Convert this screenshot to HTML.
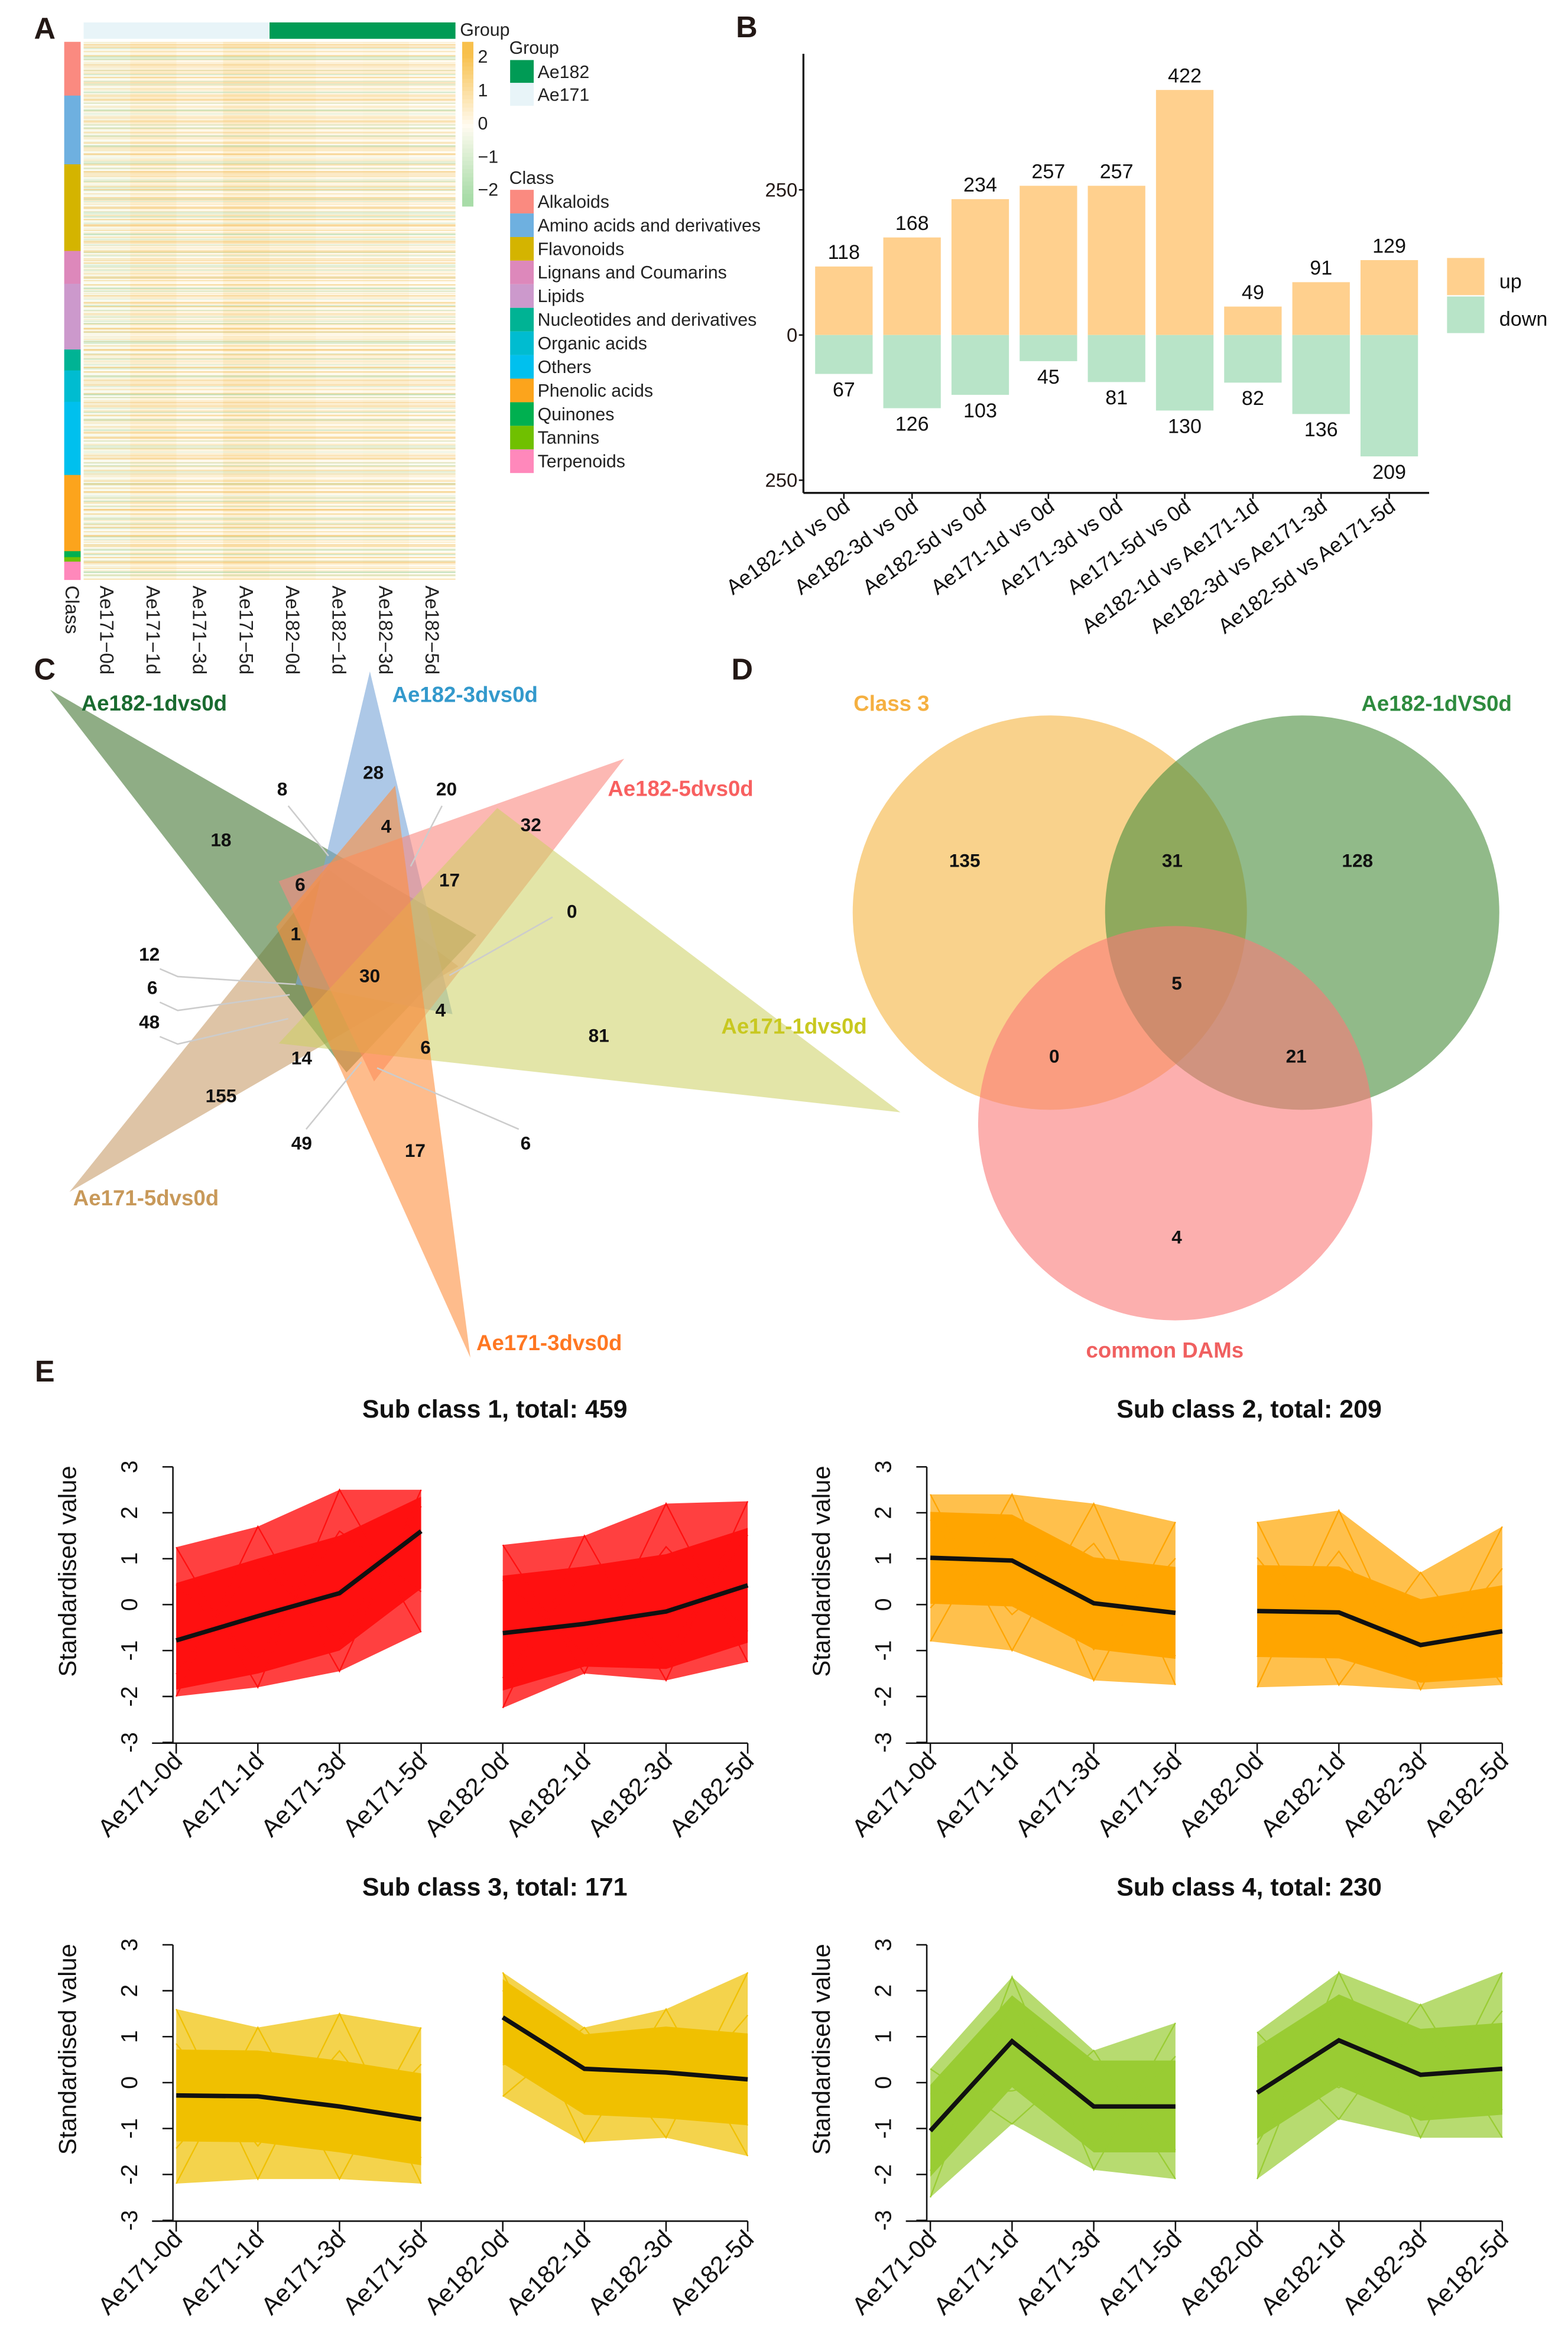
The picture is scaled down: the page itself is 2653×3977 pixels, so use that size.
<!DOCTYPE html>
<html><head><meta charset="utf-8"><title>Figure</title>
<style>
html,body{margin:0;padding:0;background:#fff;}
svg{display:block;font-family:"Liberation Sans",Arial,sans-serif;}
</style></head>
<body>
<svg id="fig" xmlns="http://www.w3.org/2000/svg" width="2653" height="3977" viewBox="0 0 1050 1574" preserveAspectRatio="none">
<defs>
<pattern id="stA" width="10" height="7.3" patternUnits="userSpaceOnUse">
<rect y="0.6" width="10" height="0.6" fill="#f3b43a" opacity="0.45"/>
<rect y="3.1" width="10" height="0.5" fill="#9fd29f" opacity="0.5"/>
<rect y="5.2" width="10" height="0.5" fill="#f7c86a" opacity="0.4"/>
</pattern>
<pattern id="stB" width="10" height="11.9" patternUnits="userSpaceOnUse">
<rect y="2" width="10" height="0.8" fill="#8fcb8f" opacity="0.4"/>
<rect y="7.5" width="10" height="0.8" fill="#f0a830" opacity="0.35"/>
<rect y="10" width="10" height="0.5" fill="#ffffff" opacity="0.6"/>
</pattern>
<pattern id="stC" width="10" height="2.9" patternUnits="userSpaceOnUse">
<rect y="0.9" width="10" height="0.4" fill="#ffffff" opacity="0.5"/>
<rect y="2.1" width="10" height="0.4" fill="#e9b040" opacity="0.25"/>
</pattern>
<pattern id="stD" width="10" height="17.3" patternUnits="userSpaceOnUse">
<rect y="4" width="10" height="1.2" fill="#b4dcb0" opacity="0.35"/>
<rect y="12" width="10" height="1.4" fill="#f6c060" opacity="0.3"/>
</pattern>
</defs>
<g id="panelA"></g>
<g id="panelB"></g>
<g id="panelC"></g>
<g id="panelD"></g>
<g id="panelE"></g>
</svg>
<script>
// ---------- data ----------
var heatCols = ["Ae171\u22120d","Ae171\u22121d","Ae171\u22123d","Ae171\u22125d","Ae182\u22120d","Ae182\u22121d","Ae182\u22123d","Ae182\u22125d"];
var heatColMeans = [-0.15, 0.3, 0.1, 0.4, 0.25, 0.1, 0.15, 0.0];
var classNames = ["Alkaloids","Amino acids and derivatives","Flavonoids","Lignans and Coumarins","Lipids","Nucleotides and derivatives","Organic acids","Others","Phenolic acids","Quinones","Tannins","Terpenoids"];
var classColors = ["#fa8a80","#6eb0e0","#d4b400","#dd88bb","#cc99cc","#00b394","#00bcd0","#00c0ee","#fca41c","#00b050","#70c000","#ff88bb"];
var classCounts = [36, 46, 58, 22, 44, 14, 21, 49, 51, 4, 3, 12];

var barCats = ["Ae182-1d vs 0d","Ae182-3d vs 0d","Ae182-5d vs 0d","Ae171-1d vs 0d","Ae171-3d vs 0d","Ae171-5d vs 0d","Ae182-1d vs Ae171-1d","Ae182-3d vs Ae171-3d","Ae182-5d vs Ae171-5d"];
var barUp = [118,168,234,257,257,422,49,91,129];
var barDown = [67,126,103,45,81,130,82,136,209];
var barTicks = [250,0,-250];

var eTimes = ["Ae171-0d","Ae171-1d","Ae171-3d","Ae171-5d","Ae182-0d","Ae182-1d","Ae182-3d","Ae182-5d"];
var eTicks = [3,2,1,0,-1,-2,-3];
var sub1Mean = [-0.78,-0.25,0.25,1.6,-0.62,-0.42,-0.15,0.42];
var sub1Up   = [1.25,1.7,2.5,2.5,1.3,1.5,2.2,2.25];
var sub1Lo   = [-2.0,-1.8,-1.45,-0.6,-2.25,-1.5,-1.65,-1.25];
var sub2Mean = [1.02,0.96,0.03,-0.18,-0.14,-0.17,-0.88,-0.58];
var sub2Up   = [2.4,2.4,2.2,1.8,1.8,2.05,0.7,1.7];
var sub2Lo   = [-0.8,-1.0,-1.65,-1.75,-1.8,-1.75,-1.85,-1.75];
var sub3Mean = [-0.28,-0.3,-0.52,-0.8,1.42,0.3,0.22,0.07];
var sub3Up   = [1.6,1.2,1.5,1.2,2.4,1.2,1.6,2.4];
var sub3Lo   = [-2.2,-2.1,-2.1,-2.2,-0.3,-1.3,-1.2,-1.6];
var sub4Mean = [-1.05,0.9,-0.52,-0.52,-0.22,0.92,0.17,0.3];
var sub4Up   = [0.3,2.3,0.7,1.3,1.1,2.4,1.7,2.4];
var sub4Lo   = [-2.5,-0.9,-1.9,-2.1,-2.1,-0.8,-1.2,-1.2];

var NS="http://www.w3.org/2000/svg";
function mk(parent, tag, attrs, text){
  var e=document.createElementNS(NS,tag);
  for(var k in attrs) e.setAttribute(k, attrs[k]);
  if(text!==undefined) e.textContent=text;
  parent.appendChild(e); return e;
}
function mix(c1,c2,t){
  var a=[parseInt(c1.substr(1,2),16),parseInt(c1.substr(3,2),16),parseInt(c1.substr(5,2),16)];
  var b=[parseInt(c2.substr(1,2),16),parseInt(c2.substr(3,2),16),parseInt(c2.substr(5,2),16)];
  return "rgb("+a.map(function(v,i){return Math.round(v+(b[i]-v)*t);}).join(",")+")";
}
function heatColor(v){ return v>=0 ? mix("#fffbf0","#f8c04c",Math.min(v/2,1)) : mix("#fffbf0","#a8dca8",Math.min(-v/2,1)); }

// ---------- Panel A ----------
(function(){
  var g=document.getElementById("panelA");
  var t=mk(g,"text",{x:30,y:26,"font-size":20,"font-weight":"bold",fill:"#231815","text-anchor":"middle"},"A");
  
  
  var x0=56,x1=305,y0=28,y1=388,cw=(x1-x0)/heatCols.length;
  var r=mk(g,"rect",{x:x0,y:15,width:cw*4,height:11,fill:"#e8f4f8"});
  
  
  r=mk(g,"rect",{x:x0+cw*4,y:15,width:cw*4,height:11,fill:"#009b55"});
  
  
  t=mk(g,"text",{x:308,y:24,"font-size":12,fill:"#222"},"Group");
  
  
  heatCols.forEach(function(c,i){
    var cr=mk(g,"rect",{x:x0+i*cw,y:y0,width:cw,height:y1-y0,fill:heatColor(heatColMeans[i])});
    
    
    var tl=mk(g,"text",{transform:"translate("+(x0+i*cw+cw/2-4.5)+",392) rotate(90)","font-size":13,fill:"#222"},c);
    
    
  });
  ["stA","stB","stC","stD"].forEach(function(p,j){
    var o=mk(g,"rect",{x:x0,y:y0,width:x1-x0,height:y1-y0,fill:"url(#"+p+")"});
    
    
  });
  var tot=classCounts.reduce(function(a,b){return a+b;},0), yy=y0;
  classCounts.forEach(function(n,i){
    var h=n/tot*(y1-y0);
    var s=mk(g,"rect",{x:43,y:yy,width:11,height:h+0.3,fill:classColors[i]});
    
    
    yy+=h;
  });
  t=mk(g,"text",{transform:"translate(44,392) rotate(90)","font-size":13,fill:"#222"},"Class");
  
  
  var steps=40;
  for(var k=0;k<steps;k++){
    var v=2.3-4.6*k/steps;
    var cb=mk(g,"rect",{x:309.5,y:28+k*(110/steps),width:7.5,height:110/steps+0.3,fill:heatColor(v)});
    
    
  }
  [["2",38],["1",60.5],["0",82.7],["\u22121",105],["\u22122",127]].forEach(function(a){
    var l=mk(g,"text",{x:320,y:a[1]+4,"font-size":12,fill:"#222"},a[0]);
    
    
  });
  t=mk(g,"text",{x:341,y:36,"font-size":12,fill:"#222"},"Group");
  
  
  [["Ae182","#009b55",40.2],["Ae171","#e8f4f8",55.5]].forEach(function(a){
    var b=mk(g,"rect",{x:341.6,y:a[2],width:15.8,height:15.3,fill:a[1]});
    
    
    var l=mk(g,"text",{x:360,y:a[2]+12,"font-size":12,fill:"#222"},a[0]);
    
    
  });
  t=mk(g,"text",{x:341,y:123,"font-size":12,fill:"#222"},"Class");
  
  
  classNames.forEach(function(n,i){
    var y=127.1+i*15.8;
    var b=mk(g,"rect",{x:341.6,y:y,width:15.8,height:15.8,fill:classColors[i]});
    
    
    var l=mk(g,"text",{x:360,y:y+12,"font-size":12,fill:"#222"},n);
    
    
  });
})();

// ---------- Panel B ----------
(function(){
  var g=document.getElementById("panelB");
  var t=mk(g,"text",{x:500,y:25,"font-size":20,"font-weight":"bold",fill:"#231815","text-anchor":"middle"},"B");
  
  
  var ax=538, y0=224.3, k=97.2/250, x0=565.1, dx=45.65, bw=38.5;
  function ys(v){return y0-v*k;}
  function xs(i){return x0+i*dx;}
  var l=mk(g,"line",{x1:ax,y1:36,x2:ax,y2:330,stroke:"#111","stroke-width":1.3});
  
  
  l=mk(g,"line",{x1:ax,y1:330,x2:957,y2:330,stroke:"#111","stroke-width":1.3});
  
  
  barTicks.forEach(function(v){
    var tk=mk(g,"line",{x1:ax-3,y1:ys(v),x2:ax,y2:ys(v),stroke:"#111"});
    
    
    var tl=mk(g,"text",{x:ax-4,y:ys(v)+4.5,"font-size":13,fill:"#231815","text-anchor":"end"},String(Math.abs(v)));
    
    
  });
  barCats.forEach(function(c,i){
    var x=xs(i);
    var r=mk(g,"rect",{x:x-bw/2,y:ys(barUp[i]),width:bw,height:barUp[i]*k,fill:"#ffd08e"});
    
    
    r=mk(g,"rect",{x:x-bw/2,y:y0,width:bw,height:barDown[i]*k,fill:"#b8e4c8"});
    
    
    var v=mk(g,"text",{x:x,y:ys(barUp[i])-5,"font-size":13.5,fill:"#111","text-anchor":"middle"},String(barUp[i]));
    
    
    v=mk(g,"text",{x:x,y:y0+barDown[i]*k+15,"font-size":13.5,fill:"#111","text-anchor":"middle"},String(barDown[i]));
    
    
    var tk=mk(g,"line",{x1:x,y1:330,x2:x,y2:334,stroke:"#111"});
    
    
    var tl=mk(g,"text",{transform:"translate("+(x+5)+",341) rotate(-36)","font-size":14,fill:"#111","text-anchor":"end"},c);
    
    
  });
  var s=mk(g,"rect",{x:969,y:172.7,width:25,height:24.9,fill:"#ffd08e"});
  
  
  s=mk(g,"rect",{x:969,y:198.5,width:25,height:24.5,fill:"#b8e4c8"});
  
  
  t=mk(g,"text",{x:1004,y:193,"font-size":13.5,fill:"#111"},"up");
  
  
  t=mk(g,"text",{x:1004,y:218,"font-size":13.5,fill:"#111"},"down");
  
  
})();

// ---------- Panel C ----------
(function(){
  var g=document.getElementById("panelC");
  var t=mk(g,"text",{x:30,y:455,"font-size":20,"font-weight":"bold",fill:"#231815","text-anchor":"middle"},"C");
  
  
  var tris=[
    ["venn-set-ae171-5d","46.5,798 220,582 307,647","#c9a070",0.62],
    ["venn-set-ae182-1d","33.5,461.7 319,626 232,718","#4a7a3a",0.62],
    ["venn-set-ae182-3d","247.7,449.5 198,659 303,679","#7aa6d8",0.62],
    ["venn-set-ae182-5d","418,508 186.6,590 250.5,724","#fa8880",0.6],
    ["venn-set-ae171-1d","603,744.7 333,541 186.6,698.6","#ccd060",0.55],
    ["venn-set-ae171-3d","315,909 264.6,526 185,620.4","#fd9040",0.6]
  ];
  tris.forEach(function(a){
    var p=mk(g,"polygon",{points:a[1],fill:a[2],"fill-opacity":a[3]});
    
    
  });
  var leaders=["193,539.5 220,573","296,539.5 275,580","370,614 301,653","107,648.6 119,653.8 198,659","107,671 119,676.5 194,666","107,694 119,699 193,682","205,756 242,711","347.4,756 252.5,715"];
  leaders.forEach(function(pts){
    var p=mk(g,"polyline",{points:pts,fill:"none",stroke:"#cccccc","stroke-width":1});
    
    
  });
  var nums=[["28",250,517],["8",189,528],["20",299,528],["4",258.6,553],["32",355.5,552],["18",148,562],["6",201,592],["17",301,589],["0",383,610],["1",198,625],["12",100,638.6],["30",247.6,653],["6",102,661],["4",295,676],["48",100,684],["81",401,693],["6",285,701],["14",202,708],["155",148,733.5],["49",202,765],["17",278,770],["6",352,765]];
  nums.forEach(function(a){
    var n=mk(g,"text",{x:a[1],y:a[2]+4.5,"font-size":12.5,"font-weight":"bold",fill:"#111","text-anchor":"middle"},a[0]);
    
    
  });
  var labs=[["Ae182-1dvs0d",54.5,470.8,"#1a6b30"],["Ae182-3dvs0d",262.6,465,"#3399cc"],["Ae182-5dvs0d",407,528,"#f86060"],["Ae171-1dvs0d",483,687,"#c8c820"],["Ae171-5dvs0d",49,802,"#c8995a"],["Ae171-3dvs0d",319,899,"#ff7722"]];
  labs.forEach(function(a){
    var n=mk(g,"text",{x:a[1],y:a[2]+5,"font-size":14.5,"font-weight":"bold",fill:a[3]},a[0]);
    
    
  });
})();

// ---------- Panel D ----------
(function(){
  var g=document.getElementById("panelD");
  var t=mk(g,"text",{x:497,y:455,"font-size":20,"font-weight":"bold",fill:"#231815","text-anchor":"middle"},"D");
  
  
  var c=mk(g,"circle",{cx:703,cy:611,r:132,fill:"#f7c060","fill-opacity":0.72});
  
  
  c=mk(g,"circle",{cx:872,cy:611,r:132,fill:"#4e9040","fill-opacity":0.62});
  
  
  c=mk(g,"circle",{cx:787,cy:752,r:132,fill:"#fa7a78","fill-opacity":0.6});
  
  
  [["Class 3",597,476,"#f5b041"],["Ae182-1dVS0d",962,476,"#2e8b3e"],["common DAMs",780,909,"#f06060"]].forEach(function(a){
    var n=mk(g,"text",{x:a[1],y:a[2],"font-size":14.5,"font-weight":"bold",fill:a[3],"text-anchor":"middle"},a[0]);
    
    
  });
  [["135",646,576],["31",785,576],["128",909,576],["5",788,658],["0",706,707],["21",868,707],["4",788,828]].forEach(function(a){
    var n=mk(g,"text",{x:a[1],y:a[2]+4.5,"font-size":12.5,"font-weight":"bold",fill:"#111","text-anchor":"middle"},a[0]);
    
    
  });
})();

// ---------- Panel E ----------
(function(){
  var g=document.getElementById("panelE");
  var t=mk(g,"text",{x:30,y:925,"font-size":20,"font-weight":"bold",fill:"#231815","text-anchor":"middle"},"E");
  
  
  var plots=[
    {title:"Sub class 1, total: 459",ax:115.8,x0:118,x1:500.7,dy:0,col:"#ff1010",mean:sub1Mean,up:sub1Up,lo:sub1Lo,core:1.25,eo:0.8},
    {title:"Sub class 2, total: 209",ax:620.6,x0:623,x1:1006,dy:0,col:"#ffa500",mean:sub2Mean,up:sub2Up,lo:sub2Lo,core:1.0,eo:0.7},
    {title:"Sub class 3, total: 171",ax:115.8,x0:118,x1:500.7,dy:320,col:"#f0c000",mean:sub3Mean,up:sub3Up,lo:sub3Lo,core:1.0,eo:0.7},
    {title:"Sub class 4, total: 230",ax:620.6,x0:623,x1:1006,dy:320,col:"#99cc33",mean:sub4Mean,up:sub4Up,lo:sub4Lo,core:1.0,eo:0.7}
  ];
  plots.forEach(function(p,pi){
    var pg=mk(g,"g",{});
    
    
    var zero=1074.3+p.dy, u=30.75;
    function ys(v){return zero-v*u;}
    function xs(i){return p.x0+i*(p.x1-p.x0)/7;}
    var tt=mk(pg,"text",{x:(p.x0+p.x1)/2+22,y:949+p.dy,"font-size":17,"font-weight":"bold",fill:"#111","text-anchor":"middle"},p.title);
    
    
    [[0,4],[4,8]].forEach(function(seg){
      var up=[],lo=[],cu=[],cl=[];
      for(var i=seg[0];i<seg[1];i++){
        up.push(xs(i)+","+ys(p.up[i])); lo.unshift(xs(i)+","+ys(p.lo[i]));
        cu.push(xs(i)+","+ys(Math.min(p.mean[i]+p.core,p.up[i]-0.15)));
        cl.unshift(xs(i)+","+ys(Math.max(p.mean[i]-p.core,p.lo[i]+0.15)));
      }
      var env=mk(pg,"polygon",{points:up.concat(lo).join(" "),fill:p.col,"fill-opacity":p.eo});
      
      
      var core=mk(pg,"polygon",{points:cu.concat(cl).join(" "),fill:p.col,"fill-opacity":1});
      
      
      for(var m=0;m<4;m++){
        var pts=[];
        for(var i=seg[0];i<seg[1];i++){
          var pick=((i+m)%2===0)?p.up[i]:p.lo[i];
          var w=(m<2)?1:0.6;
          pts.push(xs(i)+","+ys(p.mean[i]+(pick-p.mean[i])*w));
        }
        var pl=mk(pg,"polyline",{points:pts.join(" "),fill:"none",stroke:p.col,"stroke-width":0.9});
        
        
      }
      var mp=[];
      for(var i=seg[0];i<seg[1];i++) mp.push(xs(i)+","+ys(p.mean[i]));
      var ml=mk(pg,"polyline",{points:mp.join(" "),fill:"none",stroke:"#111","stroke-width":3});
      
      
    });
    var ya=mk(pg,"line",{x1:p.ax,y1:ys(3),x2:p.ax,y2:ys(-3),stroke:"#111","stroke-width":1});
    
    
    var xa=mk(pg,"line",{x1:p.ax-14,y1:ys(-3)+0.5,x2:p.x1,y2:ys(-3)+0.5,stroke:"#111","stroke-width":1});
    
    
    eTicks.forEach(function(v){
      var tk=mk(pg,"line",{x1:p.ax-7,y1:ys(v),x2:p.ax,y2:ys(v),stroke:"#111"});
      
      
      var tl=mk(pg,"text",{transform:"translate("+(p.ax-24)+","+ys(v)+") rotate(-90)","font-size":15.5,fill:"#111","text-anchor":"middle"},String(v));
      
      
    });
    var yl=mk(pg,"text",{transform:"translate("+(p.ax-65)+","+(1052+p.dy)+") rotate(-90)","font-size":16.5,fill:"#111","text-anchor":"middle"},"Standardised value");
    
    
    eTimes.forEach(function(c,i){
      var x=xs(i), yb=ys(-3)+0.5;
      var tk=mk(pg,"line",{x1:x,y1:yb,x2:x,y2:yb+7,stroke:"#111"});
      
      
      var tl=mk(pg,"text",{transform:"translate("+(x+5)+","+(yb+13)+") rotate(-45)","font-size":16.5,fill:"#111","text-anchor":"end"},c);
      
      
    });
  });
})();
</script>
</body></html>
